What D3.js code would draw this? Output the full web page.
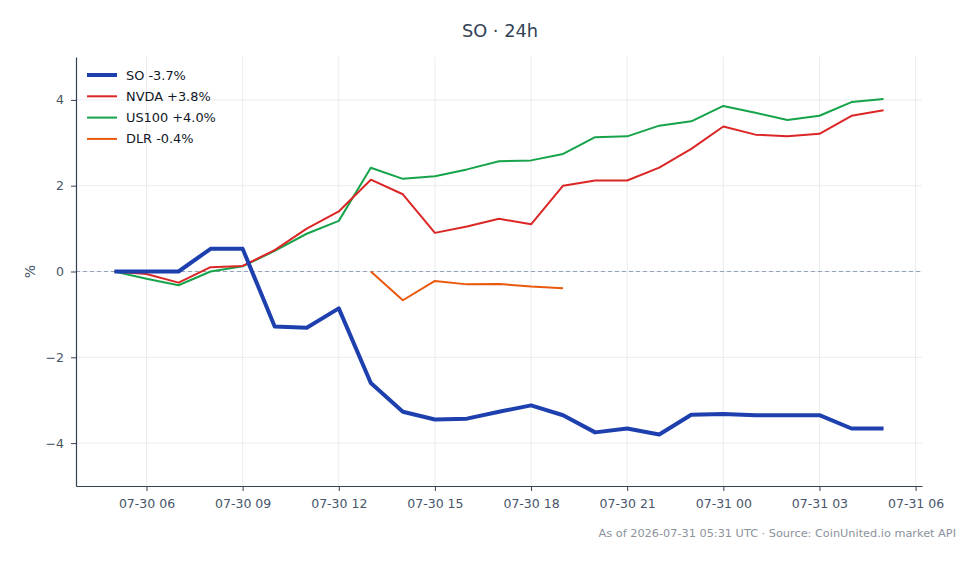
<!DOCTYPE html>
<html>
<head>
<meta charset="utf-8">
<script src="https://cdn.jsdelivr.net/npm/d3@7"></script>
<style>
  body { margin: 0; background: #fff; }
  svg { display: block; font-family: "DejaVu Sans", sans-serif; }
</style>
</head>
<body>
<div id="chart"></div>
<script>
// hourly points, 2026-07-30 05:00 UTC .. 2026-07-31 05:00 UTC
var start = new Date(Date.UTC(2026, 6, 30, 5));
var hours = d3.range(25).map(function(h) { return new Date(start.getTime() + h * 3600e3); });

var soValues = [0, 0, 0, 0.53, 0.53, -1.28, -1.31, -0.86, -2.60, -3.27, -3.45, -3.43, -3.27,
  -3.12, -3.35, -3.75, -3.66, -3.80, -3.34, -3.32, -3.35, -3.35, -3.35, -3.66, -3.66];
var nvdaValues = [0, -0.06, -0.26, 0.1, 0.13, 0.5, 1.0, 1.4, 2.14, 1.8, 0.9, 1.05, 1.23,
  1.1, 2.0, 2.12, 2.12, 2.42, 2.86, 3.38, 3.19, 3.15, 3.21, 3.63, 3.76];
var us100Values = [0, -0.17, -0.32, 0.0, 0.12, 0.48, 0.88, 1.18, 2.42, 2.16, 2.22, 2.38, 2.57,
  2.59, 2.74, 3.13, 3.15, 3.40, 3.50, 3.86, 3.70, 3.53, 3.63, 3.95, 4.02];
// DLR only from 07-30 13:00 to 19:00
var dlrValues = [null, null, null, null, null, null, null, null, 0.0, -0.67, -0.22, -0.30, -0.29,
  -0.35, -0.39];

var seriesNames = ["SO -3.7%", "NVDA +3.8%", "US100 +4.0%", "DLR -0.4%"];
var seriesColors = ["#1e40af", "#dc2626", "#16a34a", "#ea580c"];
var seriesWidths = [4, 2, 2, 2];
var yTicks = [-4, -2, 0, 2, 4];

var width = 980, height = 564;
var margin = { left: 76, right: 58, top: 57, bottom: 78 };

var svg = d3.select("#chart").append("svg")
  .attr("width", width)
  .attr("height", height);

var pad = 1.2 * 3600e3;
var x = d3.scaleUtc()
  .domain([start.getTime() - pad, hours[24].getTime() + pad])
  .range([margin.left, width - margin.right]);
var y = d3.scaleLinear()
  .domain([-5, 5])
  .range([height - margin.bottom, margin.top]);

var xTicks = d3.range(0, 27, 3).map(function(h) { return new Date(Date.UTC(2026, 6, 30, 6 + h)); });
var fmt = d3.utcFormat("%m-%d %H");

// grid
svg.append("g")
  .selectAll("line.gx")
  .data(xTicks)
  .enter().append("line")
    .attr("x1", function(d) { return x(d); })
    .attr("x2", function(d) { return x(d); })
    .attr("y1", margin.top)
    .attr("y2", height - margin.bottom)
    .attr("stroke", "#e5e7eb")
    .attr("stroke-width", 0.8);
svg.append("g")
  .selectAll("line.gy")
  .data(yTicks)
  .enter().append("line")
    .attr("x1", margin.left)
    .attr("x2", width - margin.right)
    .attr("y1", function(d) { return y(d); })
    .attr("y2", function(d) { return y(d); })
    .attr("stroke", "#e5e7eb")
    .attr("stroke-width", 0.8);

// zero line
svg.append("line")
  .attr("x1", margin.left)
  .attr("x2", width - margin.right)
  .attr("y1", y(0))
  .attr("y2", y(0))
  .attr("stroke", "#94a3b8")
  .attr("stroke-width", 1)
  .attr("stroke-dasharray", "4,3");

// axes
var xAxis = d3.axisBottom(x).tickValues(xTicks).tickFormat(fmt)
  .tickSize(5).tickSizeOuter(0).tickPadding(8);
var gx = svg.append("g")
  .attr("transform", "translate(0," + (height - margin.bottom) + ")")
  .call(xAxis);
gx.select(".domain").attr("stroke", "#334155").attr("stroke-width", 1.2);
gx.selectAll(".tick line").attr("stroke", "#334155");
gx.selectAll("text").attr("fill", "#475569").style("font-size", "12.5px")
  .style("font-family", "DejaVu Sans");

var yAxis = d3.axisLeft(y).tickValues(yTicks).tickSize(5).tickSizeOuter(0).tickPadding(7)
  .tickFormat(function(d) { return d < 0 ? "\u2212" + Math.abs(d) : d; });
var gy = svg.append("g")
  .attr("transform", "translate(" + margin.left + ",0)")
  .call(yAxis);
gy.select(".domain").attr("stroke", "#334155").attr("stroke-width", 1.2);
gy.selectAll(".tick line").attr("stroke", "#334155");
gy.selectAll("text").attr("fill", "#475569").style("font-size", "12.5px")
  .style("font-family", "DejaVu Sans");

svg.append("text")
  .attr("transform", "translate(35," + y(0) + ") rotate(-90)")
  .attr("text-anchor", "middle")
  .attr("fill", "#475569")
  .style("font-size", "14px")
  .text("%");

// lines
var allValues = [soValues, nvdaValues, us100Values, dlrValues];
var line = d3.line()
  .defined(function(d) { return d != null; })
  .x(function(d, i) { return x(hours[i]); })
  .y(function(d) { return y(d); });

// draw back to front so SO sits on top
[3, 2, 1, 0].forEach(function(k) {
  svg.append("path")
    .datum(allValues[k])
    .attr("fill", "none")
    .attr("stroke", seriesColors[k])
    .attr("stroke-width", seriesWidths[k])
    .attr("stroke-linejoin", "round")
    .attr("d", line);
});

// legend
var legend = svg.append("g")
  .selectAll("g")
  .data(seriesNames)
  .enter().append("g")
    .attr("transform", function(d, i) { return "translate(87," + (75 + i * 21.3) + ")"; });
legend.append("line")
  .attr("x1", 0).attr("x2", 30)
  .attr("stroke", function(d, i) { return seriesColors[i]; })
  .attr("stroke-width", function(d, i) { return seriesWidths[i]; });
legend.append("text")
  .attr("x", 39)
  .attr("dy", "0.35em")
  .attr("fill", "#111827")
  .style("font-size", "12.9px")
  .text(function(d) { return d; });

// title and footer
svg.append("text")
  .attr("x", 500)
  .attr("y", 37)
  .attr("text-anchor", "middle")
  .attr("fill", "#334155")
  .style("font-size", "17.8px")
  .text("SO \u00b7 24h");

svg.append("text")
  .attr("x", 956)
  .attr("y", 537)
  .attr("text-anchor", "end")
  .attr("fill", "#8b929c")
  .style("font-size", "11.3px")
  .text("As of 2026-07-31 05:31 UTC \u00b7 Source: CoinUnited.io market API");
</script>
</body>
</html>
